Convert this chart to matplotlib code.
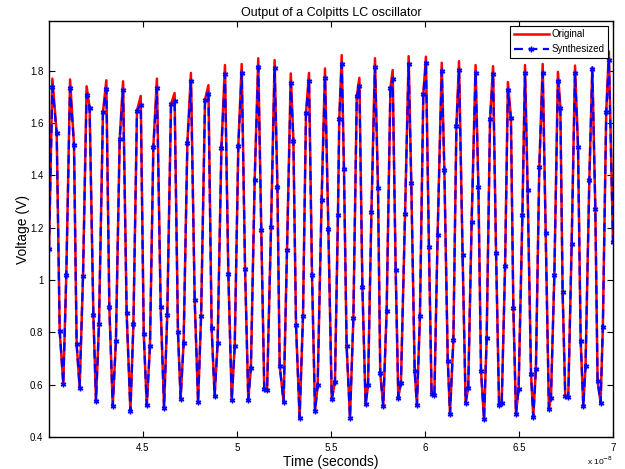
import numpy as np
import matplotlib
matplotlib.use('Agg')
import matplotlib.pyplot as plt
from matplotlib.ticker import FuncFormatter

plt.rcParams['font.family'] = ['Liberation Sans', 'DejaVu Sans']

syn_t = [40.00, 40.18, 40.41, 40.57, 40.76, 40.92, 41.12, 41.33, 41.47, 41.63, 41.81,
         42.00, 42.16, 42.36, 42.50, 42.66, 42.87, 43.05, 43.21, 43.39, 43.56,
         43.76, 43.94, 44.13, 44.33, 44.49, 44.68, 44.88, 45.04,
         45.20, 45.37, 45.55, 45.74, 45.94, 46.12, 46.29, 46.49, 46.68, 46.86,
         47.00, 47.16, 47.36, 47.55, 47.75, 47.93, 48.09, 48.30, 48.48, 48.65,
         48.81, 48.97, 49.17, 49.36, 49.54, 49.72, 49.88, 50.07,
         50.25, 50.43, 50.60, 50.74, 50.94, 51.13, 51.29, 51.45, 51.60, 51.81,
         52.00, 52.15, 52.27, 52.48, 52.66, 52.86, 53.00, 53.14, 53.33, 53.51,
         53.67, 53.83, 53.99, 54.15, 54.29, 54.50, 54.68, 54.86, 55.04,
         55.21, 55.37, 55.44, 55.57, 55.69, 55.83, 56.01, 56.19, 56.37, 56.51,
         56.67, 56.84, 56.97, 57.15, 57.34, 57.50, 57.62, 57.78, 57.96, 58.16,
         58.28, 58.44, 58.58, 58.72, 58.94, 59.13, 59.27, 59.45, 59.57, 59.73,
         59.91, 60.05, 60.21,
         60.35, 60.50, 60.67, 60.89, 61.03, 61.21, 61.33, 61.51, 61.67, 61.81,
         62.00, 62.16, 62.30, 62.48, 62.69, 62.84, 62.98, 63.14, 63.28, 63.46,
         63.62, 63.78, 63.94, 64.08, 64.26, 64.41, 64.57, 64.70, 64.84, 64.98,
         65.18, 65.32,
         65.46, 65.64, 65.76, 65.90, 66.08, 66.26, 66.42, 66.59, 66.70, 66.88,
         67.07, 67.20, 67.32, 67.46, 67.62, 67.80, 67.98, 68.14, 68.28, 68.42,
         68.54, 68.74, 68.90, 69.06, 69.18, 69.34, 69.46, 69.64, 69.78, 70.00]
syn_v = [1.12, 1.738, 1.561, 0.804, 0.604, 1.019, 1.735, 1.517, 0.756, 0.589, 1.017,
         1.709, 1.659, 0.865, 0.538, 0.833, 1.642, 1.732, 0.897, 0.518, 0.769,
         1.539, 1.726, 0.874, 0.499, 0.831, 1.648, 1.670, 0.795,
         0.521, 0.747, 1.510, 1.735, 0.896, 0.512, 0.865, 1.672, 1.683, 0.801,
         0.547, 0.759, 1.524, 1.760, 0.923, 0.534, 0.861, 1.690, 1.710, 0.818,
         0.557, 0.759, 1.505, 1.787, 1.023, 0.542, 0.749, 1.514,
         1.792, 1.042, 0.542, 0.666, 1.383, 1.815, 1.193, 0.585, 0.580, 1.202,
         1.809, 1.357, 0.673, 0.534, 1.116, 1.755, 1.533, 0.827, 0.474, 0.861,
         1.638, 1.761, 1.019, 0.499, 0.598, 1.306, 1.774, 1.195, 0.544,
         0.611, 1.250, 1.617, 1.826, 1.423, 0.750, 0.474, 0.855, 1.702, 1.741,
         0.974, 0.525, 0.598, 1.260, 1.815, 1.353, 0.644, 0.519, 0.882, 1.735,
         1.770, 1.038, 0.551, 0.608, 1.254, 1.826, 1.372, 0.653, 0.521, 0.861,
         1.710, 1.828, 1.128,
         0.566, 0.560, 1.171, 1.800, 1.421, 0.692, 0.490, 0.773, 1.588, 1.805,
         1.096, 0.531, 0.589, 1.222, 1.790, 1.356, 0.653, 0.468, 0.778, 1.616,
         1.786, 1.104, 0.521, 0.529, 1.055, 1.725, 1.620, 0.893, 0.487, 0.585,
         1.250, 1.790,
         1.343, 0.640, 0.477, 0.662, 1.434, 1.792, 1.180, 0.508, 0.551, 1.019,
         1.761, 1.659, 0.955, 0.557, 0.553, 1.137, 1.790, 1.507, 0.769, 0.519,
         0.673, 1.383, 1.807, 1.272, 0.614, 0.531, 0.820, 1.642, 1.841, 1.147]

# peak values of the original waveform (red), read per cycle
peak_t = [40.21, 41.12, 42.00, 43.05, 43.94, 44.88,
          45.74, 46.68, 47.55, 48.47, 49.36,
          50.25, 51.13, 52.00, 52.85, 53.83, 54.68,
          55.57, 56.51, 57.34, 58.28, 59.15, 60.05,
          60.89, 61.81, 62.69, 63.62, 64.41,
          65.32, 66.26, 67.07, 67.98, 68.90, 69.78]
peak_v = [1.770, 1.767, 1.741, 1.764, 1.760, 1.704,
          1.770, 1.715, 1.792, 1.745, 1.822,
          1.826, 1.848, 1.841, 1.790, 1.792, 1.809,
          1.860, 1.773, 1.848, 1.803, 1.856, 1.854,
          1.831, 1.837, 1.822, 1.818, 1.757,
          1.822, 1.826, 1.796, 1.820, 1.813, 1.874]

t = np.array(syn_t) * 1e-9
v_syn = np.array(syn_v)
v_orig = v_syn.copy()
for tp, vp in zip(peak_t, peak_v):
    i = np.argmin(np.abs(t - tp * 1e-9))
    v_orig[i] = vp

fig = plt.figure(figsize=(6.25, 4.69), dpi=100)
ax = fig.add_axes([0.0784, 0.068, 0.9024, 0.887])

ax.plot(t, v_orig, color='red', linewidth=1.8, label='Original')
ax.plot(t, v_syn, color='blue', linestyle='--', dashes=(4, 2.5), linewidth=1.6,
        marker=(6, 2, 0), markersize=4, markeredgewidth=1.0, label='Synthesized')

ax.set_xlim(4.0e-8, 7.0e-8)
ax.set_ylim(0.4, 1.99)
ax.set_xticks([4.5e-8, 5e-8, 5.5e-8, 6e-8, 6.5e-8, 7e-8])
ax.xaxis.set_major_formatter(FuncFormatter(lambda x, p: '%g' % round(x * 1e8, 2)))
ax.set_yticks([0.4, 0.6, 0.8, 1.0, 1.2, 1.4, 1.6, 1.8])
ax.yaxis.set_major_formatter(FuncFormatter(lambda y, p: '%g' % round(y, 2)))
ax.tick_params(direction='in', length=4, width=0.8, labelsize=7, top=True, right=True, pad=4)
for s in ax.spines.values():
    s.set_linewidth(1.0)

ax.set_xlabel('Time (seconds)', fontsize=10, labelpad=2)
ax.set_ylabel('Voltage (V)', fontsize=10, labelpad=0)
ax.set_title('Output of a Colpitts LC oscillator', fontsize=9, pad=4)
ax.text(1.0, -0.043, r'x 10$^{-8}$', transform=ax.transAxes, fontsize=6, ha='right', va='top')

leg = ax.legend(loc='upper right', fontsize=7, fancybox=False, framealpha=1,
                edgecolor='black', borderpad=0.35, labelspacing=0.5, handlelength=3.6,
                handletextpad=0.3, borderaxespad=0.5)
leg.get_frame().set_linewidth(0.8)

fig.savefig('out.png', dpi=100)
